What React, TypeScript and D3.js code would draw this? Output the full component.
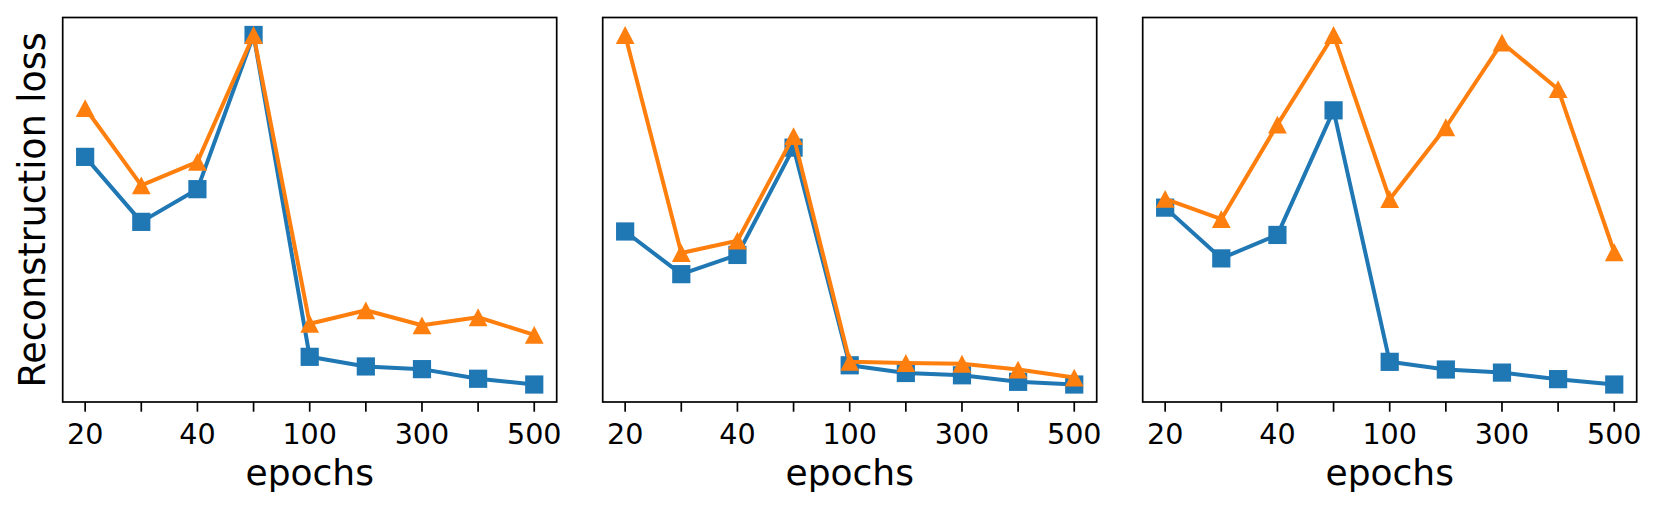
import React, { useMemo } from 'react';
import * as d3 from 'd3';

// epochs on the x axis (evenly spaced categories)
const epochs = ['20', '30', '40', '50', '100', '200', '300', '400', '500'];
const labeledEpochs = ['20', '40', '100', '300', '500'];

// reconstruction loss, relative units (no y ticks shown)
const panel1Blue = [63.7, 46.8, 55.3, 95.4, 11.7, 9.2, 8.5, 6.0, 4.5];
const panel1Orange = [76.4, 56.3, 62.4, 95.4, 20.3, 23.8, 19.9, 22.0, 17.4];

const panel2Blue = [44.3, 33.2, 38.2, 66.1, 9.5, 7.5, 6.9, 5.2, 4.5];
const panel2Orange = [95.4, 38.7, 41.9, 69.1, 10.4, 10.1, 9.9, 8.4, 6.3];

const panel3Blue = [50.5, 37.3, 43.4, 75.8, 10.4, 8.4, 7.6, 5.9, 4.5];
const panel3Orange = [52.8, 47.5, 72.1, 95.4, 52.7, 71.4, 93.4, 81.3, 38.9];

const panels = [
  { blue: panel1Blue, orange: panel1Orange, ylabel: 'Reconstruction loss' },
  { blue: panel2Blue, orange: panel2Orange, ylabel: '' },
  { blue: panel3Blue, orange: panel3Orange, ylabel: '' },
];

const BLUE = '#1f77b4';
const ORANGE = '#ff7f0e';
const FONT = '"DejaVu Sans", sans-serif';

const width = 1661;
const height = 510;
const top = 17.5;
const bottom = 402;
const panelWidth = 494;
const panelLefts = [62.7, 602.7, 1142.7];

const Panel = ({ left, blue, orange, ylabel }) => {
  const { x, y, blueLine, orangeLine } = useMemo(() => {
    // matplotlib-style 5% margins on both axes
    const x = d3.scaleLinear().domain([-0.4, epochs.length - 1 + 0.4]).range([left, left + panelWidth]);
    const [lo, hi] = d3.extent([...blue, ...orange]);
    const pad = (hi - lo) * 0.05;
    const y = d3.scaleLinear().domain([lo - pad, hi + pad]).range([bottom, top]);
    const line = d3.line().x((_, i) => x(i)).y(d => y(d));
    return { x, y, blueLine: line(blue), orangeLine: line(orange) };
  }, [left, blue, orange]);

  const sq = 18.2;
  const triW = 9.4;
  const triH = 8.9;

  return (
    <g>
      <path d={blueLine} fill="none" stroke={BLUE} strokeWidth={4} strokeLinejoin="round" />
      {blue.map((d, i) => (
        <rect key={`b-${i}`} x={x(i) - sq / 2} y={y(d) - sq / 2} width={sq} height={sq} fill={BLUE} />
      ))}
      <path d={orangeLine} fill="none" stroke={ORANGE} strokeWidth={4} strokeLinejoin="round" />
      {orange.map((d, i) => (
        <path
          key={`o-${i}`}
          d={`M${x(i)},${y(d) - triH}L${x(i) + triW},${y(d) + triH}L${x(i) - triW},${y(d) + triH}Z`}
          fill={ORANGE}
        />
      ))}

      {/* frame */}
      <rect x={left} y={top} width={panelWidth} height={bottom - top} fill="none" stroke="#000" strokeWidth={1.7} />

      {/* x ticks */}
      {epochs.map((e, i) => (
        <g key={`t-${e}`}>
          <line x1={x(i)} x2={x(i)} y1={bottom} y2={bottom + 9.7} stroke="#000" strokeWidth={1.7} />
          {labeledEpochs.includes(e) && (
            <text x={x(i)} y={443.5} textAnchor="middle" style={{ fontSize: '28.6px', fontFamily: FONT }} fill="#000">
              {e}
            </text>
          )}
        </g>
      ))}

      <text
        x={left + panelWidth / 2}
        y={485}
        textAnchor="middle"
        style={{ fontSize: '36px', fontFamily: FONT }}
        fill="#000"
      >
        epochs
      </text>

      {ylabel && (
        <text
          transform={`translate(45, ${(top + bottom) / 2}) rotate(-90)`}
          textAnchor="middle"
          style={{ fontSize: '36.5px', fontFamily: FONT }}
          fill="#000"
        >
          {ylabel}
        </text>
      )}
    </g>
  );
};

const App = () => {
  return (
    <div style={{ position: 'absolute', left: 0, top: 0, width, height, background: '#fff' }}>
      <svg width={width} height={height} viewBox={`0 0 ${width} ${height}`} style={{ display: 'block' }}>
        <rect width={width} height={height} fill="#fff" />
        {panels.map((p, i) => (
          <Panel key={i} left={panelLefts[i]} blue={p.blue} orange={p.orange} ylabel={p.ylabel} />
        ))}
      </svg>
    </div>
  );
};

export default App;
